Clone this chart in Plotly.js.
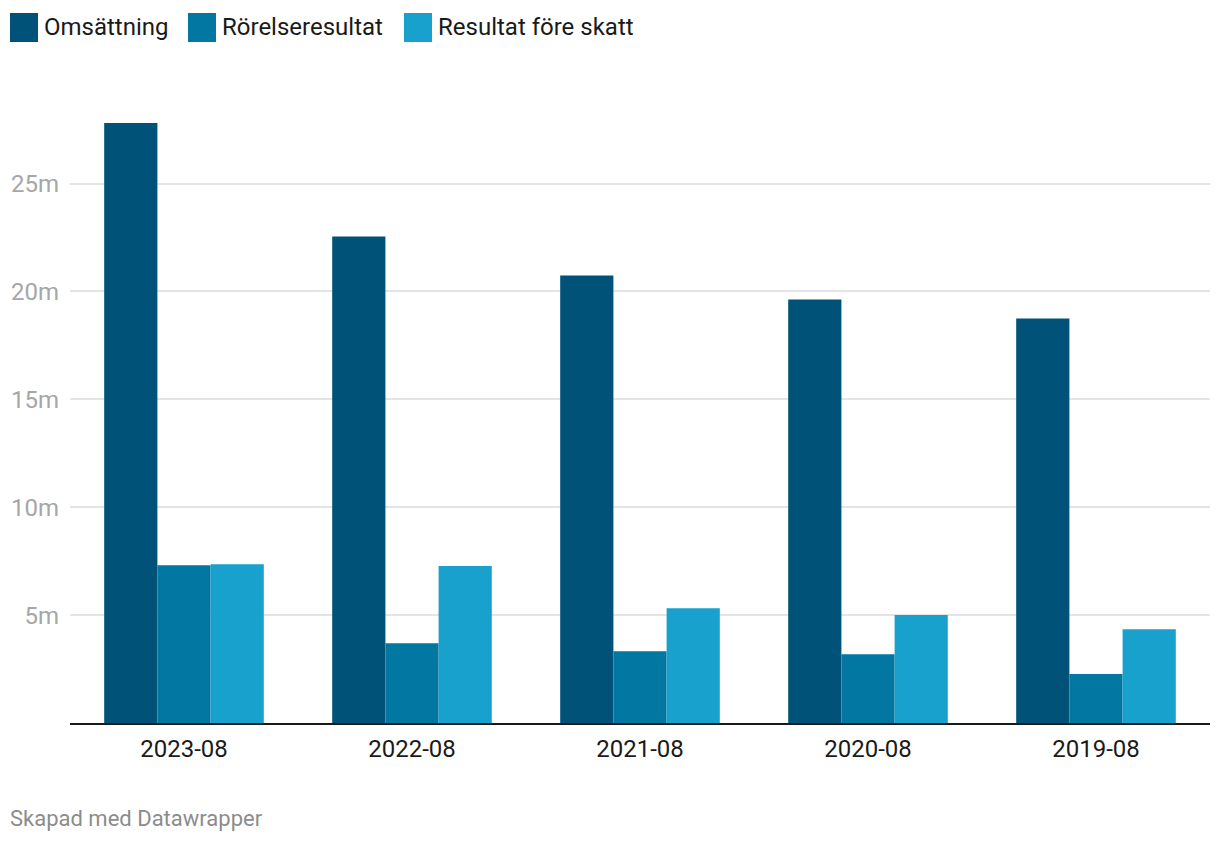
<!DOCTYPE html>
<html>
<head>
<meta charset="utf-8">
<script src="https://cdn.plot.ly/plotly-3.0.1.min.js"></script>
<style>html,body{margin:0;padding:0;background:#fff;}#chart{width:1220px;height:844px;}</style>
</head>
<body>
<div id="chart"></div>
<script>
const categories = ["2023-08", "2022-08", "2021-08", "2020-08", "2019-08"];
const seriesNames = ["Omsättning", "Rörelseresultat", "Resultat före skatt"];
const omsattning = [27.8, 22.55, 20.74, 19.63, 18.75];
const rorelseresultat = [7.31, 3.70, 3.33, 3.19, 2.27];
const resultatForeSkatt = [7.36, 7.27, 5.32, 5.00, 4.35];
const tickVals = [5, 10, 15, 20, 25];
const tickLabels = ["5m", "10m", "15m", "20m", "25m"];
const colors = ["#005279", "#0277a2", "#19a1ce"];

const seriesValues = [omsattning, rorelseresultat, resultatForeSkatt];
const traces = seriesValues.map((vals, i) => ({
  type: "bar",
  name: seriesNames[i],
  x: categories,
  y: vals,
  marker: {color: colors[i], line: {width: 0}},
  hoverinfo: "x+y+name"
}));

const font = "Roboto, 'Noto Sans', sans-serif";

const plotTop = 108, plotH = 615, plotL = 70, plotW = 1140;
function py(pix){ return 1 - (pix - plotTop) / plotH; }
function px(pix){ return (pix - plotL) / plotW; }

// Custom legend (squares + labels) at the top
const legendX = [10, 188, 404];
const shapes = [];
const annotations = [];
seriesNames.forEach((n, i) => {
  shapes.push({
    type: "rect", xref: "paper", yref: "paper",
    x0: px(legendX[i]), x1: px(legendX[i] + 28),
    y0: py(42), y1: py(13),
    fillcolor: colors[i], line: {width: 0}, layer: "above"
  });
  annotations.push({
    xref: "paper", yref: "paper",
    x: px(legendX[i] + 32), y: py(27),
    xanchor: "left", yanchor: "middle", showarrow: false,
    text: n, font: {family: font, size: 24, color: "#1a1a1a"}
  });
});

annotations.push({
  xref: "paper", yref: "paper",
  x: px(8), y: py(818),
  xanchor: "left", yanchor: "middle", showarrow: false,
  text: "Skapad med Datawrapper", font: {family: font, size: 22, color: "#8c8c8c"}
});

const layout = {
  width: 1220, height: 844,
  margin: {l: plotL, r: 10, t: plotTop, b: 844 - plotTop - plotH, pad: 0},
  paper_bgcolor: "#fff", plot_bgcolor: "#fff",
  barmode: "group", bargap: 0.3, bargroupgap: 0,
  showlegend: false,
  font: {family: font},
  xaxis: {
    type: "category",
    showgrid: false, zeroline: false,
    showline: true, linecolor: "#1a1a1a", linewidth: 2,
    ticks: "", ticklabelstandoff: 3,
    tickfont: {family: font, size: 24, color: "#1a1a1a"},
    fixedrange: true
  },
  yaxis: {
    range: [0, 28.5],
    tickvals: tickVals, ticktext: tickLabels,
    showgrid: true, gridcolor: "#e4e4e4", gridwidth: 2,
    zeroline: false, showline: false, ticks: "",
    ticklabelstandoff: 10,
    tickfont: {family: font, size: 24, color: "#a6a6a6"},
    fixedrange: true
  },
  shapes: shapes,
  annotations: annotations
};

Plotly.newPlot("chart", traces, layout, {displayModeBar: false, staticPlot: true});
</script>
</body>
</html>
